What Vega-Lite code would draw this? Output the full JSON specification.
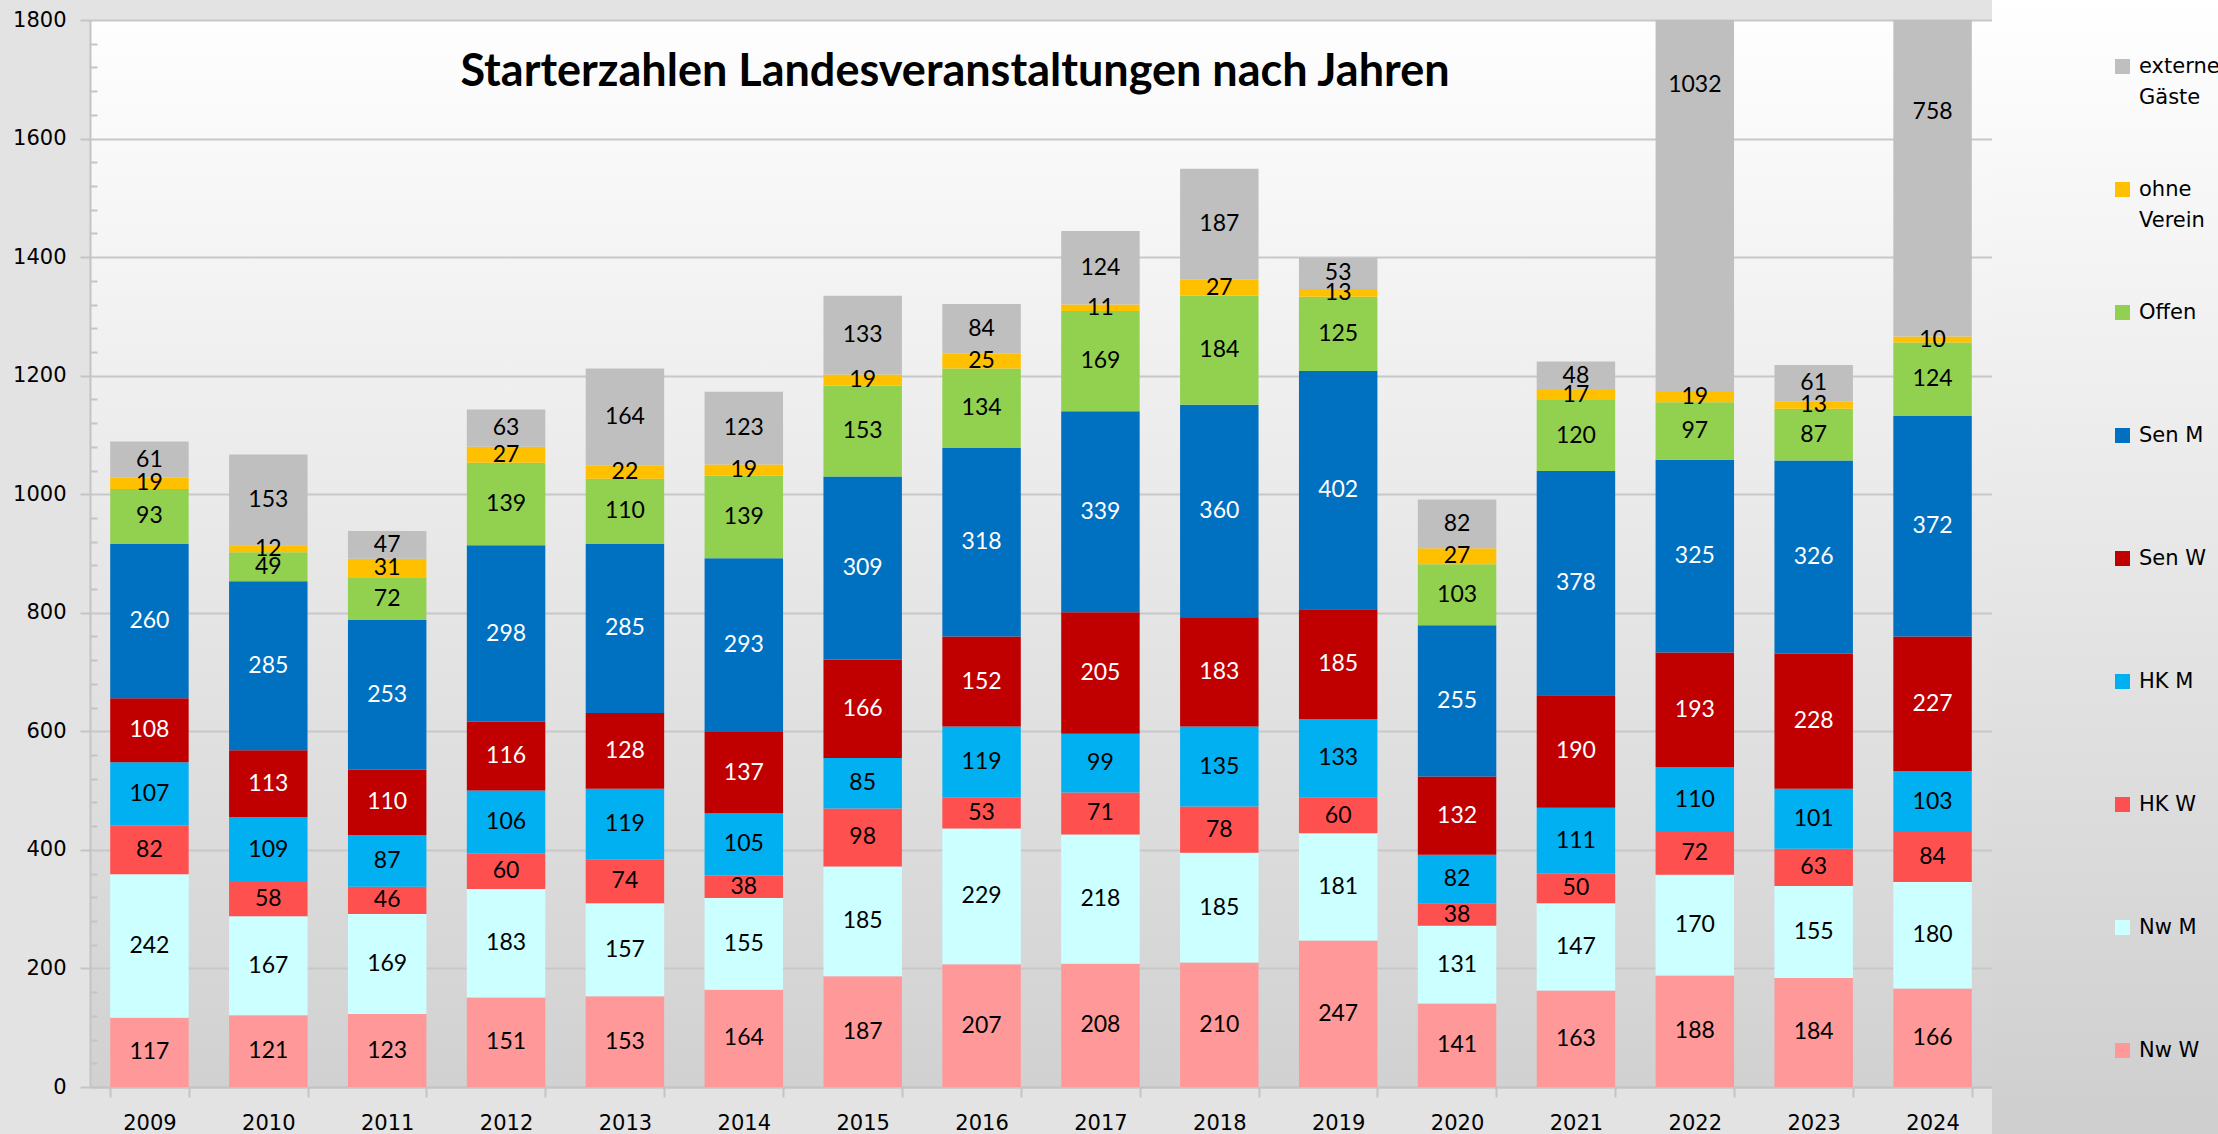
{
  "$schema": "https://vega.github.io/schema/vega-lite/v6.json",
  "width": 1902,
  "height": 1067,
  "autosize": {"type": "none"},
  "padding": {"left": 90, "top": 20, "right": 226, "bottom": 47},
  "background": "#E3E3E3",
  "title": {
    "text": "Starterzahlen Landesveranstaltungen nach Jahren",
    "font": "Lato",
    "fontSize": 45,
    "fontWeight": "bold",
    "color": "#000000",
    "anchor": "middle",
    "frame": "group",
    "baseline": "alphabetic",
    "offset": 0,
    "dx": -86,
    "dy": 195
  },
  "datasets": {
    "starts": [
      {"year": "2009", "Nw W": 117, "Nw M": 242, "HK W": 82, "HK M": 107, "Sen W": 108, "Sen M": 260, "Offen": 93, "ohne Verein": 19, "externe Gäste": 61},
      {"year": "2010", "Nw W": 121, "Nw M": 167, "HK W": 58, "HK M": 109, "Sen W": 113, "Sen M": 285, "Offen": 49, "ohne Verein": 12, "externe Gäste": 153},
      {"year": "2011", "Nw W": 123, "Nw M": 169, "HK W": 46, "HK M": 87, "Sen W": 110, "Sen M": 253, "Offen": 72, "ohne Verein": 31, "externe Gäste": 47},
      {"year": "2012", "Nw W": 151, "Nw M": 183, "HK W": 60, "HK M": 106, "Sen W": 116, "Sen M": 298, "Offen": 139, "ohne Verein": 27, "externe Gäste": 63},
      {"year": "2013", "Nw W": 153, "Nw M": 157, "HK W": 74, "HK M": 119, "Sen W": 128, "Sen M": 285, "Offen": 110, "ohne Verein": 22, "externe Gäste": 164},
      {"year": "2014", "Nw W": 164, "Nw M": 155, "HK W": 38, "HK M": 105, "Sen W": 137, "Sen M": 293, "Offen": 139, "ohne Verein": 19, "externe Gäste": 123},
      {"year": "2015", "Nw W": 187, "Nw M": 185, "HK W": 98, "HK M": 85, "Sen W": 166, "Sen M": 309, "Offen": 153, "ohne Verein": 19, "externe Gäste": 133},
      {"year": "2016", "Nw W": 207, "Nw M": 229, "HK W": 53, "HK M": 119, "Sen W": 152, "Sen M": 318, "Offen": 134, "ohne Verein": 25, "externe Gäste": 84},
      {"year": "2017", "Nw W": 208, "Nw M": 218, "HK W": 71, "HK M": 99, "Sen W": 205, "Sen M": 339, "Offen": 169, "ohne Verein": 11, "externe Gäste": 124},
      {"year": "2018", "Nw W": 210, "Nw M": 185, "HK W": 78, "HK M": 135, "Sen W": 183, "Sen M": 360, "Offen": 184, "ohne Verein": 27, "externe Gäste": 187},
      {"year": "2019", "Nw W": 247, "Nw M": 181, "HK W": 60, "HK M": 133, "Sen W": 185, "Sen M": 402, "Offen": 125, "ohne Verein": 13, "externe Gäste": 53},
      {"year": "2020", "Nw W": 141, "Nw M": 131, "HK W": 38, "HK M": 82, "Sen W": 132, "Sen M": 255, "Offen": 103, "ohne Verein": 27, "externe Gäste": 82},
      {"year": "2021", "Nw W": 163, "Nw M": 147, "HK W": 50, "HK M": 111, "Sen W": 190, "Sen M": 378, "Offen": 120, "ohne Verein": 17, "externe Gäste": 48},
      {"year": "2022", "Nw W": 188, "Nw M": 170, "HK W": 72, "HK M": 110, "Sen W": 193, "Sen M": 325, "Offen": 97, "ohne Verein": 19, "externe Gäste": 1032},
      {"year": "2023", "Nw W": 184, "Nw M": 155, "HK W": 63, "HK M": 101, "Sen W": 228, "Sen M": 326, "Offen": 87, "ohne Verein": 13, "externe Gäste": 61},
      {"year": "2024", "Nw W": 166, "Nw M": 180, "HK W": 84, "HK M": 103, "Sen W": 227, "Sen M": 372, "Offen": 124, "ohne Verein": 10, "externe Gäste": 758}
    ],
    "series": [
      {"cat": "Nw W", "k": 1},
      {"cat": "Nw M", "k": 2},
      {"cat": "HK W", "k": 3},
      {"cat": "HK M", "k": 4},
      {"cat": "Sen W", "k": 5},
      {"cat": "Sen M", "k": 6},
      {"cat": "Offen", "k": 7},
      {"cat": "ohne Verein", "k": 8},
      {"cat": "externe Gäste", "k": 9}
    ]
  },
  "data": {"name": "starts"},
  "transform": [
    {"fold": ["Nw W", "Nw M", "HK W", "HK M", "Sen W", "Sen M", "Offen", "ohne Verein", "externe Gäste"], "as": ["cat", "n"]},
    {"lookup": "cat", "from": {"data": {"name": "series"}, "key": "cat", "fields": ["k"]}}
  ],
  "layer": [
    {
      "mark": {"type": "bar", "clip": true},
      "encoding": {
        "x": {
          "field": "year",
          "type": "ordinal",
          "scale": {"paddingInner": 0.34, "paddingOuter": 0.17},
          "axis": {
            "title": null,
            "labelAngle": 0,
            "labelFont": "DejaVu Sans",
            "labelFontSize": 21,
            "labelColor": "#000000",
            "labelPadding": 15,
            "tickBand": "extent",
            "tickSize": 10,
            "tickColor": "#C4C4C4",
            "tickWidth": 2,
            "domainColor": "#C4C4C4",
            "domainWidth": 2,
            "grid": false
          }
        },
        "y": {
          "field": "n",
          "type": "quantitative",
          "stack": "zero",
          "scale": {"domain": [0, 1800], "nice": false},
          "axis": {
            "orient": "left",
            "title": null,
            "format": "d",
            "values": [0, 200, 400, 600, 800, 1000, 1200, 1400, 1600, 1800],
            "labelFont": "DejaVu Sans",
            "labelFontSize": 21,
            "labelColor": "#000000",
            "labelPadding": 14,
            "tickSize": 10,
            "tickColor": "#C4C4C4",
            "tickWidth": 2,
            "domainColor": "#C4C4C4",
            "domainWidth": 2,
            "grid": true,
            "gridColor": "#C8C8C8",
            "gridWidth": 2
          }
        },
        "color": {
          "field": "cat",
          "type": "nominal",
          "scale": {
            "domain": ["externe Gäste", "ohne Verein", "Offen", "Sen M", "Sen W", "HK M", "HK W", "Nw M", "Nw W"],
            "range": ["#BFBFBF", "#FFC000", "#92D050", "#0070C0", "#C00000", "#00B0F0", "#FF5050", "#CCFFFF", "#FF9999"]
          },
          "legend": {
            "orient": "none",
            "legendX": 1902,
            "legendY": -84,
            "title": null,
            "padding": 120,
            "strokeColor": null,
            "fillColor": {"value": {"x1": 0, "y1": 0, "x2": 0, "y2": 1, "gradient": "linear", "stops": [{"offset": 0, "color": "#FFFFFF"}, {"offset": 0.05, "color": "#FFFFFF"}, {"offset": 0.945, "color": "#CFCFCF"}, {"offset": 1, "color": "#CFCFCF"}]}},
            "symbolType": "square",
            "symbolSize": 225,
            "symbolStrokeWidth": 0,
            "labelFont": "DejaVu Sans",
            "labelFontSize": 21,
            "labelColor": "#000000",
            "labelOffset": 6,
            "labelLimit": 200,
            "rowPadding": 70,
            "gridAlign": "all",
            "labelExpr": "datum.label == 'externe Gäste' ? ['externe', 'Gäste'] : datum.label == 'ohne Verein' ? ['ohne', 'Verein'] : datum.label"
          }
        },
        "order": {"field": "k", "type": "quantitative"}
      }
    },
    {
      "mark": {"type": "text", "font": "Lato", "fontSize": 23, "baseline": "middle"},
      "encoding": {
        "x": {"field": "year", "type": "ordinal"},
        "y": {
          "field": "n",
          "type": "quantitative",
          "stack": "zero",
          "bandPosition": 0.5,
          "axis": {
            "orient": "left",
            "title": null,
            "values": [40, 80, 120, 160, 240, 280, 320, 360, 440, 480, 520, 560, 640, 680, 720, 760, 840, 880, 920, 960, 1040, 1080, 1120, 1160, 1240, 1280, 1320, 1360, 1440, 1480, 1520, 1560, 1640, 1680, 1720, 1760],
            "labels": false,
            "domain": false,
            "grid": false,
            "ticks": true,
            "tickSize": -7,
            "tickColor": "#C4C4C4",
            "tickWidth": 2
          }
        },
        "detail": {"field": "cat"},
        "order": {"field": "k", "type": "quantitative"},
        "text": {"field": "n", "type": "quantitative"},
        "color": {
          "condition": {"test": "datum.cat == 'Sen M' || datum.cat == 'Sen W'", "value": "#FFFFFF"},
          "value": "#000000"
        }
      }
    }
  ],
  "resolve": {"axis": {"y": "independent"}},
  "config": {
    "view": {
      "stroke": null,
      "fill": {"x1": 0, "y1": 0, "x2": 0, "y2": 1, "gradient": "linear", "stops": [{"offset": 0, "color": "#FEFEFE"}, {"offset": 1, "color": "#D1D1D1"}]}
    },
    "style": {"guide-label": {"lineHeight": 31}}
  }
}
